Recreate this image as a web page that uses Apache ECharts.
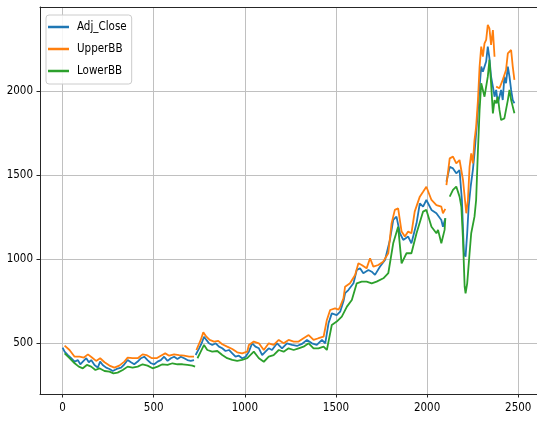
<!DOCTYPE html>
<html><head><meta charset="utf-8">
<script src="https://cdn.jsdelivr.net/npm/echarts@6/dist/echarts.min.js"></script>
<style>html,body{margin:0;padding:0;background:#fff}#c{width:537px;height:421px}</style>
</head><body><div id="c"></div>
<script>
const seriesNames = ['Adj_Close', 'UpperBB', 'LowerBB'];
const xTicks = [0, 500, 1000, 1500, 2000, 2500];
const yTicks = [500, 1000, 1500, 2000];

const closeX = [0,11,29,47,66,84,97,111,130,144,157,175,193,206,220,239,257,275,297,321,339,357,375,393,412,430,448,466,485,503,521,539,557,576,594,612,630,649,667,685,703,721,725,730,749,763,776,789,803,821,840,858,876,894,913,931,949,967,985,1004,1022,1040,1058,1077,1095,1113,1131,1149,1177,1204,1231,1259,1286,1313,1341,1368,1395,1423,1441,1459,1477,1504,1523,1541,1550,1568,1596,1614,1632,1650,1678,1696,1714,1741,1769,1796,1814,1832,1851,1869,1896,1914,1942,1960,1978,1996,2024,2051,2060,2078,2087,2100,2103,2106,2124,2142,2160,2178,2191,2202,2211,2220,2228,2239,2251,2260,2275,2288,2297,2306,2315,2324,2333,2342,2351,2361,2370,2379,2388,2397,2406,2415,2424,2433,2443,2452,2461,2470,2479];
const closeY = [474,450,430,411,391,400,375,391,411,387,400,371,355,391,371,355,347,335,347,355,375,400,387,375,391,411,420,400,381,375,391,400,420,395,411,420,407,420,411,400,395,400,null,430,470,500,539,520,500,490,500,480,470,454,460,440,420,426,411,420,450,500,480,470,430,450,470,460,500,470,500,490,484,496,520,500,490,520,500,619,678,668,688,750,798,817,857,936,946,917,936,926,907,956,996,1115,1234,1254,1155,1115,1135,1095,1214,1333,1313,1353,1294,1274,1274,1234,1194,1244,null,1462,1551,1541,1512,1531,1353,1036,1016,1155,1313,1432,1531,1631,1829,2028,2147,2117,2147,2177,2266,2197,2087,2028,1968,2008,1929,1968,2008,1948,2087,2048,2147,2087,2008,1948,1929];

const upperX = [11,38,66,93,117,139,161,184,206,230,257,284,311,339,357,384,412,439,460,490,516,539,563,585,612,639,667,694,721,727,734,758,772,789,807,831,854,876,903,931,958,985,1013,1022,1049,1077,1104,1131,1158,1186,1213,1240,1268,1295,1322,1350,1377,1404,1432,1450,1468,1495,1514,1523,1541,1550,1577,1605,1623,1641,1668,1687,1705,1732,1759,1787,1805,1823,1841,1860,1878,1896,1914,1932,1960,1978,1996,2024,2051,2060,2078,2087,2100,2103,2106,2124,2142,2160,2178,2197,2215,2224,2233,2242,2251,2260,2269,2279,2288,2297,2306,2315,2324,2333,2342,2351,2361,2370,2374,2379,2397,2415,2433,2443,2461,2470,2479];
const upperY = [486,460,420,420,415,434,415,395,411,387,367,355,367,391,415,411,411,434,430,411,411,426,440,426,434,430,426,420,420,null,460,520,565,539,520,510,514,494,480,466,446,440,450,490,510,500,460,500,490,520,500,520,510,510,530,549,520,530,539,639,698,708,700,718,768,837,857,907,976,966,946,1006,956,966,986,1036,1214,1294,1303,1165,1135,1165,1155,1284,1373,1402,1432,1353,1323,1333,1313,1274,1300,null,1442,1601,1611,1571,1591,1472,1274,1353,1551,1631,1571,1710,1789,1948,2147,2266,2206,2286,2306,2395,2375,2276,2365,2206,null,2028,2018,2068,2127,2226,2246,2147,2068];

const lowerX = [11,38,66,89,111,133,157,180,202,230,257,279,302,330,357,384,412,439,466,494,521,548,576,603,630,658,685,712,727,733,740,758,776,794,821,849,876,903,931,958,985,1013,1022,1049,1077,1104,1131,1158,1186,1213,1240,1268,1295,1322,1350,1377,1404,1432,1450,1459,1477,1504,1532,1560,1587,1614,1641,1668,1696,1723,1760,1787,1814,1841,1860,1887,1914,1942,1978,1996,2024,2051,2060,2078,2087,2096,2100,2103,2124,2142,2160,2178,2188,2197,2206,2211,2220,2233,2242,2260,2269,2279,2288,2297,2306,2315,2324,2333,2342,2351,2361,2370,2379,2388,2397,2406,2424,2443,2452,2461,2470,2479];
const lowerY = [440,411,381,361,351,371,361,341,351,335,331,321,325,341,361,355,361,375,367,351,361,375,371,381,375,375,371,367,361,null,411,450,490,460,450,454,430,411,401,395,401,411,420,450,411,390,420,430,460,450,470,460,470,480,500,470,470,480,460,510,609,629,659,718,758,857,867,867,857,867,887,917,1095,1194,976,1036,1036,1155,1284,1294,1194,1155,1175,1095,1085,1175,1244,null,1373,1413,1433,1373,1313,1115,837,797,857,1036,1155,1254,1353,1651,1889,2048,2008,1968,1978,2087,2187,2048,1869,1948,1929,1968,1889,1829,1839,1948,2008,1948,1909,1869];

function pairs(xs, ys) { return xs.map((x, i) => [x, ys[i] === null ? '-' : ys[i]]); }

const FONT = "'DejaVu Sans Condensed','DejaVu Sans',sans-serif";
const FS = 11.5;
const colors = ['#1f77b4', '#ff7f0e', '#2ca02c'];
const chart = echarts.init(document.getElementById('c'), null, { renderer: 'canvas' });
const axisLine = { show: true, onZero: false, lineStyle: { color: '#262626', width: 1 } };
const fmt = v => String(v);
chart.setOption({
  animation: false,
  backgroundColor: '#fff',
  color: colors,
  grid: { left: 40, right: -2, top: 7, bottom: 27, containLabel: false },
  legend: {
    orient: 'vertical', left: 46, top: 15,
    data: seriesNames,
    icon: 'rect', itemWidth: 21, itemHeight: 2.5, itemGap: 8,
    padding: [5, 5, 6, 2],
    backgroundColor: 'rgba(255,255,255,0.85)', borderColor: '#cccccc', borderWidth: 1, borderRadius: 3,
    textStyle: { fontFamily: FONT, fontSize: FS, color: '#000', lineHeight: 14, padding: [0, 0, 0, 3] }
  },
  xAxis: [{
    type: 'value', min: -124, max: 2603,
    axisLine: axisLine,
    axisTick: { show: true, length: 3.5, lineStyle: { color: '#262626' }, customValues: xTicks },
    axisLabel: { fontFamily: FONT, fontSize: FS, color: '#000', margin: 8, customValues: xTicks, formatter: fmt },
    splitLine: { show: true, lineStyle: { color: '#c0c0c0', width: 1 } }
  }, {
    type: 'value', position: 'top', min: -124, max: 2603,
    axisLine: axisLine, axisTick: { show: false }, axisLabel: { show: false }, splitLine: { show: false }
  }],
  yAxis: {
    type: 'value', min: 198, max: 2502,
    axisLine: axisLine,
    axisTick: { show: true, length: 3.5, lineStyle: { color: '#262626' }, customValues: yTicks },
    axisLabel: { fontFamily: FONT, fontSize: FS, color: '#000', margin: 7, customValues: yTicks, formatter: fmt },
    splitLine: { show: true, lineStyle: { color: '#c0c0c0', width: 1 } }
  },
  series: [
    { name: seriesNames[0], type: 'line', data: pairs(closeX, closeY) },
    { name: seriesNames[1], type: 'line', data: pairs(upperX, upperY) },
    { name: seriesNames[2], type: 'line', data: pairs(lowerX, lowerY) }
  ].map(s => Object.assign(s, { showSymbol: false, symbol: 'none', connectNulls: false, lineStyle: { width: 1.8 }, emphasis: { disabled: true } }))
});
</script>
</body></html>
